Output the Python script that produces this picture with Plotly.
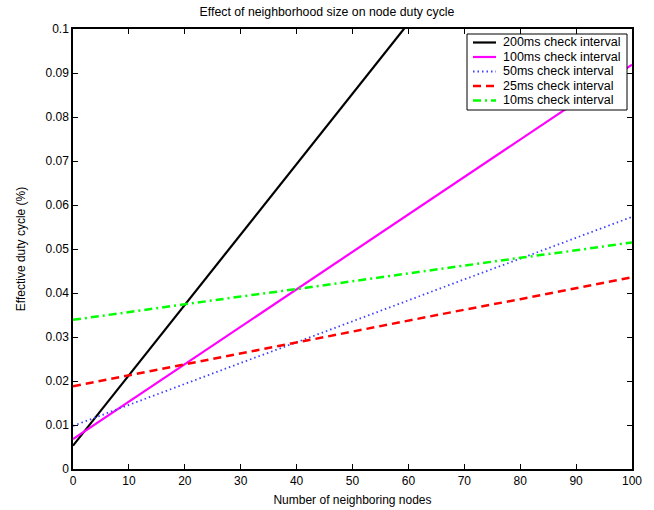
import plotly.graph_objects as go

neighbors = [0, 10, 20, 30, 40, 50, 60, 70, 80, 90, 100]
duty_200ms = [0.0053, 0.0213, 0.0373, 0.0533, 0.0693, 0.0853, 0.1013, 0.1173, 0.1333, 0.1493, 0.1653]
duty_100ms = [0.0068, 0.0153, 0.0238, 0.0323, 0.0408, 0.0494, 0.0579, 0.0664, 0.0749, 0.0834, 0.0919]
duty_50ms = [0.0098, 0.0146, 0.0193, 0.0241, 0.0288, 0.0336, 0.0383, 0.0431, 0.0478, 0.0526, 0.0573]
duty_25ms = [0.0188, 0.0213, 0.0238, 0.0262, 0.0287, 0.0312, 0.0337, 0.0362, 0.0386, 0.0411, 0.0436]
duty_10ms = [0.0339, 0.0357, 0.0374, 0.0392, 0.0409, 0.0427, 0.0445, 0.0462, 0.0480, 0.0497, 0.0515]

series_names = ["200ms check interval", "100ms check interval", "50ms check interval",
                "25ms check interval", "10ms check interval"]
series_values = [duty_200ms, duty_100ms, duty_50ms, duty_25ms, duty_10ms]
series_colors = ["#000000", "#FF00FF", "#4040FF", "#FF0000", "#00FF00"]
series_dash = ["solid", "solid", "1.5px,3px", "8px,5px", "8px,4px,2px,4px"]
series_width = [2.2, 2.2, 1.8, 2.5, 2.5]

W, H = 654, 510
ML, MR, MT, MB = 73, 22, 29, 41
PW, PH = W - ML - MR, H - MT - MB


def px_x(px):
    return (px - ML) / PW


def px_y(py):
    return 1 - (py - MT) / PH


fig = go.Figure()
for name, ys, color, dash, w in zip(series_names, series_values, series_colors, series_dash, series_width):
    fig.add_trace(go.Scatter(x=neighbors, y=ys, mode="lines", name=name, showlegend=False,
                             line=dict(color=color, dash=dash, width=w)))

# Legend box (MATLAB style)
shapes = [dict(type="rect", xref="paper", yref="paper",
               x0=px_x(467), x1=px_x(627), y0=px_y(110), y1=px_y(34),
               line=dict(color="black", width=1), fillcolor="white", layer="above")]
annotations = []
row_y = [42.5, 57, 71.5, 86, 100.5]
for name, color, dash, w, ry in zip(series_names, series_colors, series_dash, series_width, row_y):
    shapes.append(dict(type="line", xref="paper", yref="paper",
                       x0=px_x(473), x1=px_x(496), y0=px_y(ry), y1=px_y(ry),
                       line=dict(color=color, dash=dash, width=w), layer="above"))
    annotations.append(dict(text=name, xref="paper", yref="paper", x=px_x(501), y=px_y(ry),
                            xanchor="left", yanchor="middle", showarrow=False,
                            font=dict(size=12.5, color="black")))

axis_common = dict(showgrid=False, zeroline=False, showline=True, linecolor="black",
                   linewidth=1.5, ticks="inside", ticklen=5, tickcolor="black",
                   mirror="ticks", automargin=False, tickfont=dict(size=12, color="black"))

fig.update_layout(
    width=W, height=H,
    margin=dict(l=ML, r=MR, t=MT, b=MB),
    paper_bgcolor="white", plot_bgcolor="white",
    font=dict(family="Liberation Sans, Arial, sans-serif", size=12, color="black"),
    title=dict(text="Effect of neighborhood size on node duty cycle", x=0.5, xanchor="center",
               y=0.985, yanchor="top", font=dict(size=12.3)),
    xaxis=dict(range=[0, 100], tickvals=list(range(0, 101, 10)),
               title=dict(text="Number of neighboring nodes", standoff=8, font=dict(size=12)),
               **axis_common),
    yaxis=dict(range=[0, 0.1], tickvals=[i / 100 for i in range(11)],
               ticktext=["0"] + ["0.0%d" % i for i in range(1, 10)] + ["0.1"],
               title=dict(text="Effective duty cycle (%)", standoff=17, font=dict(size=12)),
               **axis_common),
    shapes=shapes,
    annotations=annotations,
    showlegend=False,
)

fig.write_html("out.html")
